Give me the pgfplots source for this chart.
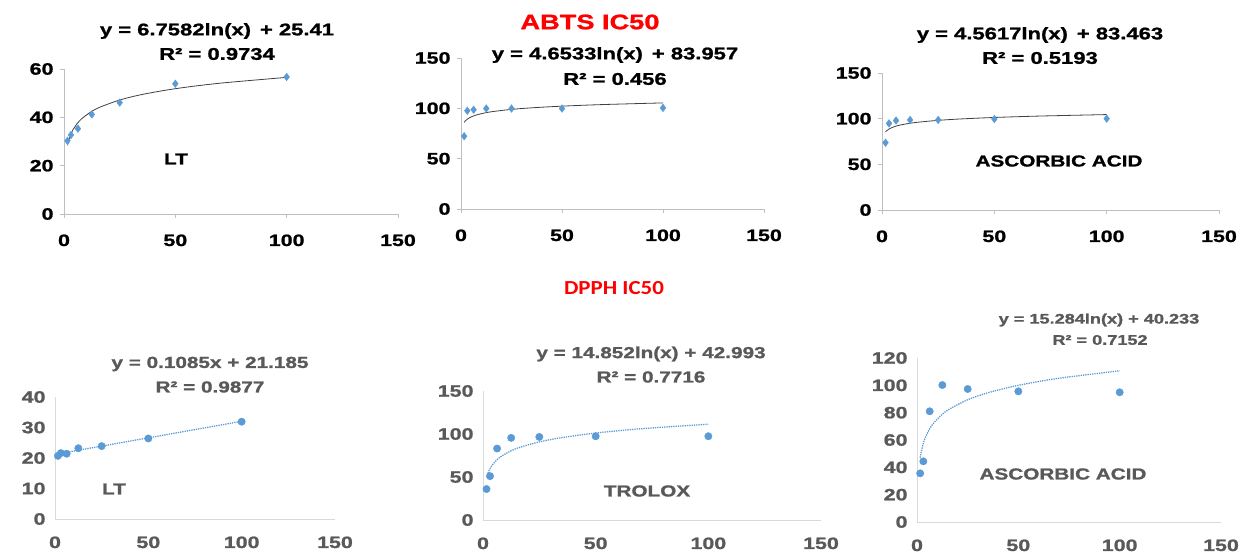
\documentclass[border=0pt]{standalone}
\usepackage{fontspec}
\setmainfont{Liberation Sans}[FakeStretch=1.3, BoldFeatures={FakeBold=1.2}]
\newfontfamily\dpphfont{Carlito}[FakeStretch=1.15]
\usepackage{pgfplots}
\pgfplotsset{compat=1.18}
\definecolor{ptblue}{HTML}{5B9BD5}
\definecolor{axgray}{HTML}{BFBFBF}
\definecolor{txtgray}{HTML}{595959}
\newcommand{\fs}[1]{\fontsize{#1}{#1}\selectfont}
\pgfplotsset{
  common/.style={
    scale only axis,
    anchor=south west,
    axis x line=bottom, axis y line=left,
    axis line style={-, draw=axgray, line width=0.8bp},
    xmin=0, xmax=150, xtick={0,50,100,150},
    /pgf/number format/assume math mode=true,
    tick label style={font=\bfseries\fs{16.5}},
    clip=false,
  },
  toprow/.style={common,
    tick style={draw=axgray, line width=0.8bp},
    tick align=outside, major tick length=4bp,
    xticklabel style={yshift=-13bp},
    yticklabel style={xshift=-3bp},
  },
  botrow/.style={common,
    major tick length=0pt,
    axis line style={-, draw=gray!30, line width=0.8bp},
    tick label style={font=\bfseries\fs{16.5}, text=txtgray},
    xticklabel style={yshift=-14bp},
    yticklabel style={xshift=-6bp},
  },
  dia/.style={only marks, mark=diamond*, mark size=3.8bp, color=ptblue},
  dot/.style={only marks, mark=*, mark size=3.7bp, color=ptblue},
  trend/.style={no marks, smooth, color=black!75, line width=0.8bp},
  dtrend/.style={no marks, smooth, color=ptblue, densely dotted, line width=1.3bp},
}
\begin{document}
\begin{tikzpicture}
\path[use as bounding box] (0bp,0bp) rectangle (1241bp,555bp);

% ---------- P1: LT (ABTS)
\begin{axis}[toprow, at={(64bp,341bp)}, width=334bp, height=145bp,
  ymin=0, ymax=60, ytick={0,20,40,60}]
\addplot[trend] coordinates {(1.5625,28.43)(2,30.09)(3,32.83)(4,34.78)(6,37.52)(8,39.46)(12,42.20)(16,44.15)(25,47.16)(35,49.44)(50,51.85)(70,54.12)(100,56.53)};
\addplot[dia] coordinates {(1.5625,30.3)(3.125,32.7)(6.25,35.3)(12.5,41.2)(25,46.1)(50,53.9)(100,56.7)};
\end{axis}

% ---------- P2: (ABTS)
\begin{axis}[toprow, at={(461bp,346bp)}, width=303bp, height=151bp,
  ymin=0, ymax=150, ytick={0,50,100,150}]
\addplot[trend] coordinates {(1.5625,86.03)(2,87.18)(3,89.07)(4,90.41)(6,92.29)(8,93.63)(12,95.52)(16,96.86)(25,98.94)(35,100.50)(50,102.16)(70,103.73)(100,105.39)};
\addplot[dia] coordinates {(1.5625,72.3)(3.125,97.6)(6.25,98.6)(12.5,99.8)(25,99.8)(50,99.8)(100,100.4)};
\end{axis}

% ---------- P3: Ascorbic acid (ABTS)
\begin{axis}[toprow, at={(882bp,345bp)}, width=337bp, height=137bp,
  ymin=0, ymax=150, ytick={0,50,100,150}]
\addplot[trend] coordinates {(1.5625,85.50)(2,86.63)(3,88.47)(4,89.79)(6,91.64)(8,92.95)(12,94.80)(16,96.11)(25,98.15)(35,99.68)(50,101.31)(70,102.84)(100,104.47)};
\addplot[dia] coordinates {(1.5625,73.7)(3.125,94.8)(6.25,98.0)(12.5,98.6)(25,98.6)(50,99.6)(100,100.0)};
\end{axis}

% ---------- P4: LT (DPPH)
\begin{axis}[botrow, at={(55bp,36bp)}, width=280bp, height=122bp,
  ymin=0, ymax=40, ytick={0,10,20,30,40}]
\addplot[dtrend] coordinates {(1.5625,21.355)(100,32.035)};
\addplot[dot] coordinates {(1.5625,20.7)(3.125,21.6)(6.25,21.4)(12.5,23.2)(25,23.9)(50,26.4)(100,31.9)};
\end{axis}

% ---------- P5: Trolox (DPPH)
\begin{axis}[botrow, at={(483bp,35bp)}, width=338bp, height=129bp,
  ymin=0, ymax=150, ytick={0,50,100,150}]
\addplot[dtrend] coordinates {(1.5625,49.62)(2,53.29)(3,59.31)(4,63.58)(6,69.60)(8,73.88)(12,79.90)(16,84.17)(25,90.80)(35,95.80)(50,101.09)(70,106.09)(100,111.39)};
\addplot[dot] coordinates {(1.5625,36.0)(3.125,51.0)(6.25,83.1)(12.5,95.5)(25,96.6)(50,97.4)(100,97.4)};
\end{axis}

% ---------- P6: Ascorbic acid (DPPH)
\begin{axis}[botrow, at={(917bp,33bp)}, width=304bp, height=164bp,
  ymin=0, ymax=120, ytick={0,20,40,60,80,100,120}]
\addplot[dtrend] coordinates {(1.5625,47.05)(2,50.83)(3,57.02)(4,61.42)(6,67.62)(8,72.02)(12,78.21)(16,82.61)(25,89.43)(35,94.57)(50,100.02)(70,105.17)(100,110.62)};
\addplot[dot] coordinates {(1.5625,35.6)(3.125,44.4)(6.25,81.0)(12.5,100.2)(25,97.3)(50,95.6)(100,94.9)};
\end{axis}

% ---------- texts (y = 555 - pixel row)
\node[font=\bfseries\fs{21}, text=red] at (590bp,533bp) {ABTS IC50};
\node[font=\dpphfont\bfseries\fs{20}, text=red] at (614bp,267bp) {DPPH IC50};

\node[font=\bfseries\fs{17}] at (217bp,524bp) {y = 6.7582ln(x)\, + 25.41};
\node[font=\bfseries\fs{17}] at (217bp,501bp) {R² = 0.9734};
\node[font=\bfseries\fs{16}] at (176bp,396bp) {LT};

\node[font=\bfseries\fs{17}] at (615bp,500bp) {y = 4.6533ln(x)\, + 83.957};
\node[font=\bfseries\fs{17}] at (615bp,476bp) {R² = 0.456};

\node[font=\bfseries\fs{17}] at (1040bp,520bp) {y = 4.5617ln(x)\, + 83.463};
\node[font=\bfseries\fs{17}] at (1040bp,497bp) {R² = 0.5193};
\node[font=\bfseries\fs{16}] at (1059bp,394bp) {ASCORBIC ACID};

\node[font=\bfseries\fs{16}, text=txtgray] at (210bp,191bp) {y = 0.1085x + 21.185};
\node[font=\bfseries\fs{16}, text=txtgray] at (210bp,168bp) {R² = 0.9877};
\node[font=\bfseries\fs{16}, text=txtgray] at (114bp,66bp) {LT};

\node[font=\bfseries\fs{16}, text=txtgray] at (651bp,201bp) {y = 14.852ln(x) + 42.993};
\node[font=\bfseries\fs{16}, text=txtgray] at (651bp,178bp) {R² = 0.7716};
\node[font=\bfseries\fs{16}, text=txtgray] at (647bp,64bp) {TROLOX};

\node[font=\bfseries\fs{14}, text=txtgray] at (1099bp,235bp) {y = 15.284ln(x) + 40.233};
\node[font=\bfseries\fs{14}, text=txtgray] at (1100bp,215bp) {R² = 0.7152};
\node[font=\bfseries\fs{16}, text=txtgray] at (1063bp,81bp) {ASCORBIC ACID};
\end{tikzpicture}
\end{document}
